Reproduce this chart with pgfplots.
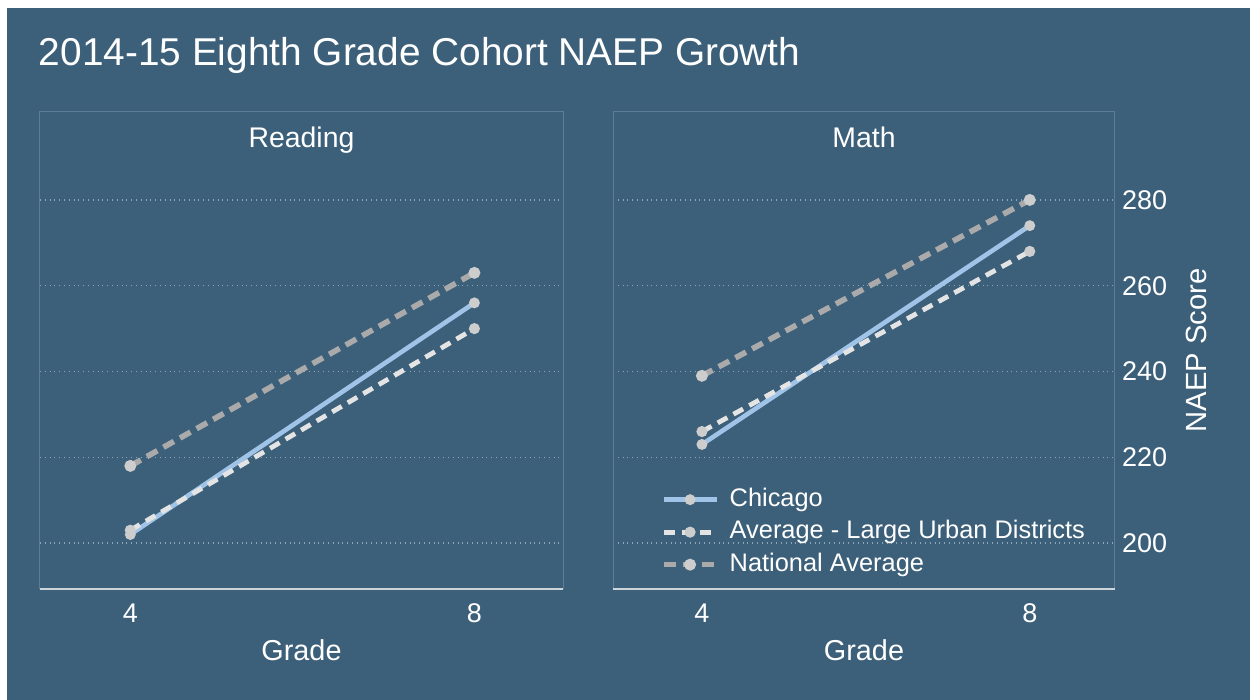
\documentclass[border=0pt]{standalone}
\usepackage{pgfplots}
\pgfplotsset{compat=1.18}
\usepackage{fontspec}
\setmainfont{Liberation Sans}

\definecolor{bg}{RGB}{61,96,122}
\definecolor{panelline}{RGB}{92,125,149}
\definecolor{gridc}{RGB}{140,166,184}
\definecolor{chicago}{RGB}{160,196,232}
\definecolor{urban}{RGB}{228,228,228}
\definecolor{national}{RGB}{170,170,170}
\definecolor{markc}{RGB}{205,205,205}
\definecolor{axisgray}{RGB}{205,212,218}

\tikzset{paneltitle/.style={text=white, font=\fontsize{14.2}{17}\selectfont, anchor=base}}

\pgfplotsset{
  panel/.style={
    scale only axis, height=238.5pt,
    ymin=189.3, ymax=300.5,
    xtick={4,8}, ytick={200,220,240,260,280},
    major tick length=0pt,
    ymajorgrids, major grid style={gridc, dotted, line width=0.6pt},
    axis line style={panelline, line width=0.5pt},
    tick label style={white, font=\fontsize{13.5}{16}\selectfont},
    /pgf/number format/assume math mode=true,
    xticklabel style={anchor=center, yshift=-12pt},
    xlabel={Grade},
    every axis x label/.style={at={(axis description cs:0.5,0)}, anchor=center,
      yshift=-30.5pt, text=white, font=\fontsize{14.4}{17}\selectfont},
    clip=false,
  },
  chicagoline/.style={chicago, line width=2.3pt, mark=*, mark size=1.5pt,
    mark options={solid, fill=markc, draw=markc}},
  urbanline/.style={urban, line width=2.4pt, dash pattern=on 5.5pt off 3.5pt,
    mark=*, mark size=1.5pt, mark options={solid, fill=markc, draw=markc}},
  nationalline/.style={national, line width=2.8pt, dash pattern=on 6pt off 3.5pt,
    mark=*, mark size=1.5pt, mark options={solid, fill=markc, draw=markc}},
}

\begin{document}
\begin{tikzpicture}
% page background
\fill[white] (0,0) rectangle (625pt,350pt);
\fill[bg] (3.5pt,0) rectangle (625pt,346pt);
\node[anchor=base west, inner sep=0pt, text=white, font=\fontsize{19.4}{23}\selectfont]
  at (19.3pt,317.3pt) {2014-15 Eighth Grade Cohort NAEP Growth};

% Reading panel
\begin{axis}[panel, at={(20pt,55.5pt)}, anchor=south west, width=261.5pt,
  xmin=2.95, xmax=9.03, yticklabels={}]
  \addplot[chicagoline] coordinates {(4,202) (8,256)};
  \addplot[urbanline] coordinates {(4,203) (8,250)};
  \addplot[nationalline] coordinates {(4,218) (8,263)};
  \node[paneltitle] at (axis description cs:0.5,1) [yshift=-18pt] {Reading};
  \draw[axisgray, line width=1.25pt] (axis description cs:0,0) -- (axis description cs:1,0);
\end{axis}

% Math panel
\begin{axis}[panel, at={(306.5pt,55.5pt)}, anchor=south west, width=251pt,
  xmin=2.915, xmax=9.04, yticklabel pos=right,
  ylabel={NAEP Score},
  every axis y label/.style={at={(axis description cs:1.163,0.5)}, anchor=center,
    rotate=90, text=white, font=\fontsize{14.6}{17}\selectfont},
  legend cell align=left,
  legend image code/.code={\draw[mark repeat=2, mark phase=2, #1]
    plot coordinates {(0pt,0pt) (13.25pt,0pt) (26.5pt,0pt)};},
  legend style={draw=none, fill=none, text=white, inner sep=0pt,
    font=\fontsize{12.7}{15}\selectfont,
    at={(axis description cs:0.0944,0.218)}, anchor=north west,
    column sep=5.15pt, row sep=2pt,
    nodes={inner xsep=0pt, inner ysep=1pt, text height=9.5pt, text depth=2.75pt}},
  ]
  \addplot[chicagoline] coordinates {(4,223) (8,274)};
  \addlegendentry{Chicago}
  \addplot[urbanline] coordinates {(4,226) (8,268)};
  \addlegendentry{Average - Large Urban Districts}
  \addplot[nationalline] coordinates {(4,239) (8,280)};
  \addlegendentry{National Average}
  \node[paneltitle] at (axis description cs:0.5,1) [yshift=-18pt] {Math};
  \draw[axisgray, line width=1.25pt] (axis description cs:0,0) -- (axis description cs:1,0);
\end{axis}
\end{tikzpicture}
\end{document}
